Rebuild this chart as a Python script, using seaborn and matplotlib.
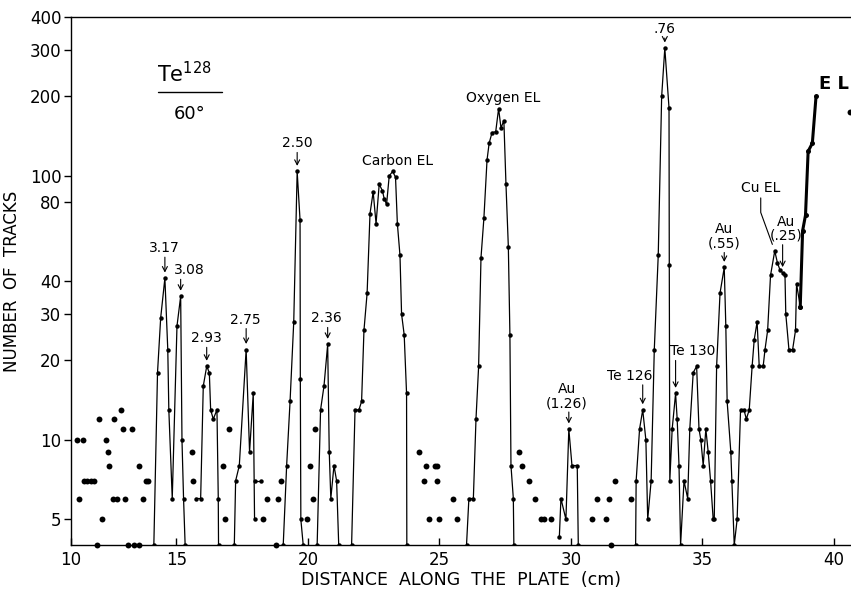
import numpy as np
import pandas as pd
import matplotlib
matplotlib.use("Agg")
import matplotlib.pyplot as plt
import seaborn as sns
from matplotlib.ticker import FixedLocator, FixedFormatter, NullLocator

# ---------------- data (distance in cm, number of tracks) ----------------
# isolated (unconnected) counts
DOT_X = [11.21, 11.43, 11.29, 11.48, 11.58, 11.75, 11.87, 12.06, 12.16, 11.97,
         12.31, 12.38, 12.44, 12.60, 12.73, 12.62, 12.89, 12.98, 13.30, 13.04,
         13.17, 13.38, 13.59, 13.59, 13.74, 13.84, 13.93, 15.60, 15.64, 16.78,
         16.86, 17.01, 18.28, 18.45, 18.79, 18.87, 18.97, 19.98, 20.09, 20.19,
         20.28, 24.22, 24.49, 24.83, 24.89, 24.41, 24.92, 24.60, 24.99, 25.50,
         25.68, 28.02, 28.13, 28.40, 28.63, 28.86, 28.97, 29.23, 30.81, 31.33,
         31.01, 31.43, 31.52, 31.66, 32.27, 40.61]
DOT_Y = [10, 10, 6, 7, 7, 7, 7, 12, 5, 4,
         10, 9, 8, 6, 6, 12, 13, 11, 11, 6,
         4, 4, 4, 8, 6, 7, 7, 9, 7, 8,
         5, 11, 5, 6, 4, 6, 7, 5, 8, 6,
         11, 9, 8, 8, 8, 7, 7, 5, 5, 6,
         5, 9, 8, 7, 6, 5, 5, 5, 5, 5,
         6, 6, 4, 7, 6, 175]

# connected runs
SEG_317_X = [14.14, 14.28, 14.40, 14.56, 14.67, 14.71, 14.84, 15.02, 15.16, 15.21, 15.27, 15.33]
SEG_317_Y = [4, 18, 29, 41, 22, 13, 6, 27, 35, 10, 6, 4]
SEG_293_X = [15.73, 15.92, 16.02, 16.15, 16.25, 16.30, 16.40, 16.54, 16.59, 16.60]
SEG_293_Y = [6, 6, 16, 19, 18, 13, 12, 13, 6, 4]
SEG_275_X = [17.20, 17.25, 17.39, 17.65, 17.78, 17.92, 17.97]
SEG_275_Y = [4, 7, 8, 22, 9, 15, 5]
SEG_275B_X = [18.00, 18.20]
SEG_275B_Y = [7, 7]
SEG_250_X = [19.06, 19.19, 19.32, 19.46, 19.59, 19.70, 19.71, 19.73, 19.82]
SEG_250_Y = [4, 8, 14, 28, 104, 68, 17, 5, 4]
SEG_236_X = [20.35, 20.48, 20.61, 20.75, 20.81, 20.87, 20.99, 21.09, 21.17]
SEG_236_Y = [4, 13, 16, 23, 9, 6, 8, 7, 4]
SEG_C_X = [21.66, 21.79, 21.94, 22.04, 22.13, 22.25, 22.36, 22.48, 22.59, 22.71, 22.83,
           22.90, 22.99, 23.09, 23.22, 23.33, 23.40, 23.50, 23.56, 23.66, 23.75, 23.76]
SEG_C_Y = [4, 13, 13, 14, 26, 36, 72, 87, 66, 93, 88,
           82, 78, 100, 104, 99, 66, 50, 30, 25, 15, 4]
SEG_O_X = [26.03, 26.12, 26.29, 26.39, 26.49, 26.58, 26.69, 26.81, 26.89, 27.00,
           27.14, 27.25, 27.34, 27.45, 27.53, 27.62, 27.68, 27.72, 27.81, 27.83]
SEG_O_Y = [4, 6, 6, 12, 19, 49, 69, 115, 133, 146,
           147, 180, 152, 162, 93, 54, 25, 8, 6, 4]
SEG_AU126_X = [29.56, 29.62, 29.81, 29.92, 30.04, 30.24, 30.28]
SEG_AU126_Y = [4.3, 6, 5, 11, 8, 8, 4]
SEG_TE_X = [32.46, 32.48, 32.61, 32.73, 32.85, 32.92, 33.05, 33.17, 33.32, 33.45,
            33.57, 33.73, 33.74, 33.76, 33.85, 33.98, 34.04, 34.11, 34.17, 34.30,
            34.44, 34.52, 34.65, 34.78, 34.87, 34.94, 35.03, 35.13, 35.22, 35.31,
            35.41, 35.45, 35.54, 35.67, 35.83, 35.89, 35.94, 36.08, 36.12, 36.21,
            36.32, 36.45, 36.58, 36.67, 36.78, 36.89, 36.97, 37.08, 37.16, 37.31,
            37.38, 37.48, 37.59, 37.75, 37.85, 37.95, 38.05, 38.14, 38.17, 38.29,
            38.43, 38.54, 38.58, 38.72]
SEG_TE_Y = [4, 7, 11, 13, 10, 5, 7, 22, 50, 200,
            305, 181, 46, 7, 11, 15, 12, 8, 4, 7,
            6, 11, 18, 19, 11, 10, 8, 11, 9, 7,
            5, 5, 19, 36, 45, 27, 14, 9, 7, 4,
            5, 13, 13, 12, 13, 19, 24, 28, 19, 19,
            22, 26, 42, 52, 47, 44, 43, 42, 30, 22,
            22, 26, 39, 32]
SEG_EL_X = [38.72, 38.81, 38.92, 39.02, 39.18, 39.32]
SEG_EL_Y = [32, 62, 71, 124, 133, 200]

# peak labels: text, peak x, peak y, text dx (px), gap above peak (px)
PEAK_TEXT = ["3.17", "3.08", "2.93", "2.75", "2.50", "2.36", "Au\n(1.26)", "Te 126",
             ".76", "Te 130", "Au\n(.55)", "Au\n(.25)"]
PEAK_X = [14.56, 15.16, 16.15, 17.65, 19.59, 20.75, 29.92, 32.73, 33.57, 33.98, 35.83, 38.05]
PEAK_Y = [41, 35, 19, 22, 104, 23, 11, 13, 305, 15, 45, 43]
PEAK_DX = [-1, 9, 0, -1, 0, -1, -2, -13, 0, 17, 0, 3]
PEAK_GAP = [23, 19, 21, 23, 21, 19, 19, 27, 12, 35, 17, 30]

YTICKS = [5, 10, 20, 30, 40, 80, 100, 200, 300, 400]
YTICK_LABELS = ["5", "10", "20", "30", "40", "80", "100", "200", "300", "400"]
XTICKS = [10.99, 15, 20, 25, 30, 35, 40]
XTICK_LABELS = ["10", "15", "20", "25", "30", "35", "40"]
XLIM = (10.99, 40.65)
YLIM = (4, 400)

# ---------------- build tables ----------------
segs = [(SEG_317_X, SEG_317_Y), (SEG_293_X, SEG_293_Y), (SEG_275_X, SEG_275_Y),
        (SEG_275B_X, SEG_275B_Y), (SEG_250_X, SEG_250_Y), (SEG_236_X, SEG_236_Y),
        (SEG_C_X, SEG_C_Y), (SEG_O_X, SEG_O_Y), (SEG_AU126_X, SEG_AU126_Y),
        (SEG_TE_X, SEG_TE_Y)]
rows = []
for i, (xs, ys) in enumerate(segs):
    for k, (x, y) in enumerate(zip(xs, ys)):
        rows.append({"x": x, "y": y, "seg": i, "order": k})
lines = pd.DataFrame(rows)
el = pd.DataFrame({"x": SEG_EL_X, "y": SEG_EL_Y, "seg": 0})
dots = pd.DataFrame({"x": DOT_X, "y": DOT_Y})

# ---------------- plot ----------------
sns.set_style("white")
plt.rcParams["font.family"] = ["DejaVu Sans"]
plt.rcParams["text.color"] = "black"
plt.rcParams["axes.labelcolor"] = "black"
plt.rcParams["xtick.color"] = "black"
plt.rcParams["ytick.color"] = "black"

fig = plt.figure(figsize=(8.51, 5.94), dpi=100)
ax = fig.add_axes([71 / 851, 1 - 545 / 594, 780 / 851, 528 / 594])
ax.set_yscale("log")

sns.lineplot(data=lines, x="x", y="y", units="seg", estimator=None, sort=False,
             color="black", lw=0.9, marker="o", markersize=3.2, markeredgewidth=0,
             ax=ax, legend=False)
sns.lineplot(data=el, x="x", y="y", units="seg", estimator=None, sort=False,
             color="black", lw=2.2, marker="o", markersize=3.6, markeredgewidth=0,
             ax=ax, legend=False)
sns.scatterplot(data=dots, x="x", y="y", color="black", s=18, linewidth=0,
                ax=ax, legend=False, clip_on=False, zorder=3)
for coll in ax.collections:
    coll.set_clip_on(False)

ax.set_xlim(*XLIM)
ax.set_ylim(*YLIM)
ax.yaxis.set_major_locator(FixedLocator(YTICKS))
ax.yaxis.set_major_formatter(FixedFormatter(YTICK_LABELS))
ax.yaxis.set_minor_locator(NullLocator())
ax.xaxis.set_major_locator(FixedLocator(XTICKS))
ax.xaxis.set_major_formatter(FixedFormatter(XTICK_LABELS))
ax.xaxis.set_minor_locator(NullLocator())

for s in ["left", "bottom", "top"]:
    ax.spines[s].set_visible(True)
    ax.spines[s].set_color("black")
    ax.spines[s].set_linewidth(1.0)
ax.spines["right"].set_visible(False)

ax.tick_params(axis="y", direction="out", length=5, width=1, labelsize=12, pad=2,
               left=True, colors="black")
ax.tick_params(axis="x", direction="in", length=5, width=1, labelsize=12, pad=4,
               bottom=True, colors="black")

ax.set_xlabel("DISTANCE  ALONG  THE  PLATE  (cm)", fontsize=12.5, labelpad=2,
              color="black")
ax.set_ylabel("NUMBER  OF  TRACKS", fontsize=12, labelpad=6, color="black")

# peak labels with small arrows
for t, px, py, dx, gap in zip(PEAK_TEXT, PEAK_X, PEAK_Y, PEAK_DX, PEAK_GAP):
    ax.annotate(t, xy=(px, py), xytext=(dx, gap), textcoords="offset pixels",
                ha="center", va="bottom", fontsize=10, linespacing=1.0, color="black")
    ax.annotate("", xy=(px, py), xytext=(0, gap - 2), textcoords="offset pixels",
                arrowprops=dict(arrowstyle="->,head_length=0.35,head_width=0.18",
                                lw=0.8, color="black", shrinkA=0, shrinkB=4))

# Cu EL leader
ax.annotate("Cu EL", xy=(37.75, 52), xytext=(-14, 56), textcoords="offset pixels",
            ha="center", va="bottom", fontsize=10, color="black")
ax.annotate("", xy=(37.75, 52), xytext=(-14, 53), textcoords="offset pixels",
            arrowprops=dict(arrowstyle="-", lw=0.8, color="black", shrinkA=0, shrinkB=5,
                            connectionstyle="angle,angleA=-90,angleB=110,rad=0"))

# element labels
ax.text((398 - 71) / 780, (545 - 161) / 528, "Carbon EL", transform=ax.transAxes,
        ha="center", va="center", fontsize=10, color="black")
ax.text((503 - 71) / 780, (545 - 98) / 528, "Oxygen EL", transform=ax.transAxes,
        ha="center", va="center", fontsize=10, color="black")
ax.text((834 - 71) / 780, (545 - 84) / 528, "E L", transform=ax.transAxes,
        ha="center", va="center", fontsize=13, fontweight="bold", color="black")

# Te128 / 60 deg
ax.text((184 - 71) / 780, (545 - 74) / 528, r"Te$^{128}$", transform=ax.transAxes,
        ha="center", va="center", fontsize=15, color="black")
ax.plot([(158 - 71) / 780, (222 - 71) / 780], [(545 - 92) / 528] * 2,
        transform=ax.transAxes, color="black", lw=1.0)
ax.text((190 - 71) / 780, (545 - 114) / 528, "60°", transform=ax.transAxes,
        ha="center", va="center", fontsize=13, color="black")

fig.savefig("out.png", dpi=100, facecolor="white")
